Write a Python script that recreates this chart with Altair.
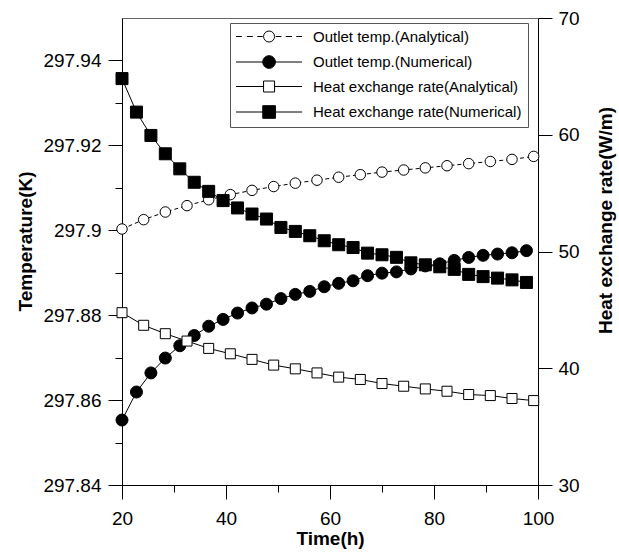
import altair as alt
import pandas as pd

FONT = "Liberation Sans"

# ---- data ----
time_num = [20.0, 22.78, 25.56, 28.33, 31.11, 33.89, 36.67, 39.44, 42.22, 45.0,
            47.78, 50.56, 53.33, 56.11, 58.89, 61.67, 64.44, 67.22, 70.0, 72.78,
            75.56, 78.33, 81.11, 83.89, 86.67, 89.44, 92.22, 95.0, 97.78]
time_ana = [20.0, 24.17, 28.33, 32.5, 36.67, 40.83, 45.0, 49.17, 53.33, 57.5,
            61.67, 65.83, 70.0, 74.17, 78.33, 82.5, 86.67, 90.83, 95.0, 99.17]

temp_ana = [297.9003, 297.9025, 297.9043, 297.9058, 297.9072, 297.9084, 297.9094,
            297.9103, 297.9111, 297.9118, 297.9125, 297.9131, 297.9137, 297.9142,
            297.9147, 297.9152, 297.9157, 297.9162, 297.9167, 297.9174]
temp_num = [297.8553, 297.8619, 297.8664, 297.8699, 297.8728, 297.8752, 297.8774,
            297.8790, 297.8805, 297.8817, 297.8826, 297.8839, 297.8849, 297.8856,
            297.8867, 297.8875, 297.8881, 297.8893, 297.8899, 297.8902, 297.8909,
            297.8916, 297.8921, 297.8929, 297.8936, 297.8941, 297.8944, 297.8947,
            297.8952]
heat_ana = [44.76, 43.68, 42.96, 42.33, 41.70, 41.24, 40.76, 40.27, 39.95, 39.60,
            39.24, 39.04, 38.69, 38.46, 38.23, 38.03, 37.75, 37.66, 37.41, 37.23]
heat_num = [64.81, 61.94, 59.94, 58.37, 57.08, 55.93, 55.15, 54.36, 53.73, 53.21,
            52.78, 52.06, 51.72, 51.35, 50.92, 50.58, 50.34, 49.86, 49.72, 49.50,
            49.03, 48.86, 48.69, 48.47, 48.04, 47.85, 47.72, 47.57, 47.35]

series_names = ["Outlet temp.(Analytical)", "Outlet temp.(Numerical)",
                "Heat exchange rate(Analytical)", "Heat exchange rate(Numerical)"]
series_fill = ["white", "black", "white", "black"]
series_stroke = ["black", "black", "black", "black"]

x_ticks = [20, 30, 40, 50, 60, 70, 80, 90, 100]
left_ticks = [297.84, 297.85, 297.86, 297.87, 297.88, 297.89, 297.90, 297.91,
              297.92, 297.93, 297.94]
right_ticks = [30, 40, 50, 60, 70]

# legend symbols: line + marker drawn as one path
circ_open = "M3.65,0A1,1 0 1,1 5.65,0A1,1 0 1,1 3.65,0Z"
circ_full = "M3.5,0A1.15,1.15 0 1,1 5.8,0A1.15,1.15 0 1,1 3.5,0Z"
sym_paths = [
    "M-1.35,0H-0.3M0.6,0H1.7M2.5,0H3.5M5.85,0H6.9M7.7,0H8.8M9.6,0H10.65" + circ_open,
    "M-1.35,0H10.65" + circ_full,
    "M-1.35,0H3.65M5.65,0H10.65M3.65,-1H5.65V1H3.65Z",
    "M-1.35,0H10.65M3.5,-1.15H5.8V1.15H3.5Z",
]

df_ta = pd.DataFrame({"t": time_ana, "v": temp_ana})
df_tn = pd.DataFrame({"t": time_num, "v": temp_num})
df_ha = pd.DataFrame({"t": time_ana, "v": heat_ana})
df_hn = pd.DataFrame({"t": time_num, "v": heat_num})
df_leg = pd.DataFrame({"series": series_names})

x_enc = alt.X(
    "t:Q",
    scale=alt.Scale(domain=[20, 100], nice=False, zero=False),
    axis=alt.Axis(
        values=x_ticks, title="Time(h)",
        labelExpr="datum.value % 20 == 0 ? datum.label : ''",
        tickSize={"condition": {"test": "datum.value % 20 == 0", "value": 14}, "value": 7},
        labelPadding=10, titlePadding=1,
    ),
)

y_temp = alt.Y(
    "v:Q",
    scale=alt.Scale(domain=[297.84, 297.95], nice=False, zero=False),
    axis=alt.Axis(
        orient="left", values=left_ticks, title="Temperature(K)",
        labelExpr="round(datum.value * 100) % 2 == 0 ? format(datum.value, '.2~f') : ''",
        tickSize={"condition": {"test": "round(datum.value * 100) % 2 == 0", "value": 14}, "value": 7},
        labelPadding=7, titlePadding=7, titleY=223,
    ),
)

y_heat = alt.Y(
    "v:Q",
    scale=alt.Scale(domain=[30, 70], nice=False, zero=False),
    axis=alt.Axis(
        orient="right", values=right_ticks, title="Heat exchange rate(W/m)",
        tickSize=14, labelPadding=6, titlePadding=17, titleAngle=270,
        titleBaseline="top", titleY=202,
    ),
)

line_ta = alt.Chart(df_ta).mark_line(color="black", strokeWidth=1, strokeDash=[4, 3]).encode(x=x_enc, y=y_temp)
pts_ta = alt.Chart(df_ta).mark_point(shape="circle", size=110, filled=True, fill="white",
                                     stroke="black", strokeWidth=1, opacity=1).encode(x=x_enc, y=y_temp)
line_tn = alt.Chart(df_tn).mark_line(color="black", strokeWidth=1).encode(x=x_enc, y=y_temp)
pts_tn = alt.Chart(df_tn).mark_point(shape="circle", size=144, filled=True, fill="black",
                                     stroke="black", strokeWidth=1, opacity=1).encode(x=x_enc, y=y_temp)

line_ha = alt.Chart(df_ha).mark_line(color="black", strokeWidth=1).encode(x=x_enc, y=y_heat)
pts_ha = alt.Chart(df_ha).mark_point(shape="square", size=100, filled=True, fill="white",
                                     stroke="black", strokeWidth=1, opacity=1).encode(x=x_enc, y=y_heat)
line_hn = alt.Chart(df_hn).mark_line(color="black", strokeWidth=1).encode(x=x_enc, y=y_heat)
pts_hn = alt.Chart(df_hn).mark_point(shape="square", size=144, filled=True, fill="black",
                                     stroke="black", strokeWidth=1, opacity=1).encode(x=x_enc, y=y_heat)

temp_layer = alt.layer(line_ta, line_tn, pts_ta, pts_tn)
heat_layer = alt.layer(line_ha, line_hn, pts_ha, pts_hn)

leg = alt.Legend(
    title=None, orient="none", legendX=108, legendY=5,
    symbolSize=121, symbolStrokeColor="black", symbolStrokeWidth=1, symbolOpacity=1,
    labelOffset=62, labelFont=FONT, labelFontSize=15, labelColor="black", labelLimit=400,
    padding=6, rowPadding=8.5, strokeColor="#555", fillColor="white",
)
legend_layer = alt.Chart(df_leg).mark_point(filled=True, opacity=0, size=121,
                                            stroke="black", strokeWidth=1).encode(
    color=alt.Color("series:N", scale=alt.Scale(domain=series_names, range=series_fill), legend=leg),
    shape=alt.Shape("series:N", scale=alt.Scale(domain=series_names, range=sym_paths), legend=leg),
    stroke=alt.Stroke("series:N", scale=alt.Scale(domain=series_names, range=series_stroke), legend=leg),
)

chart = (
    alt.layer(temp_layer, heat_layer, legend_layer)
    .resolve_scale(y="independent")
    .properties(
        width=416, height=467,
        padding={"left": 122, "top": 18, "right": 81, "bottom": 74},
        autosize=alt.AutoSizeParams(type="none"),
        background="white",
    )
    .configure_view(stroke="#666", strokeWidth=1)
    .configure_axis(
        labelFont=FONT, labelFontSize=19, labelColor="black",
        titleFont=FONT, titleFontSize=19, titleFontWeight="bold", titleColor="black",
        domainColor="black", domainWidth=1, tickColor="black", tickWidth=1,
        grid=False, labelFlush=False, labelOverlap=False,
    )
)

chart.save("out.html", embed_options={"renderer": "svg", "actions": False})
